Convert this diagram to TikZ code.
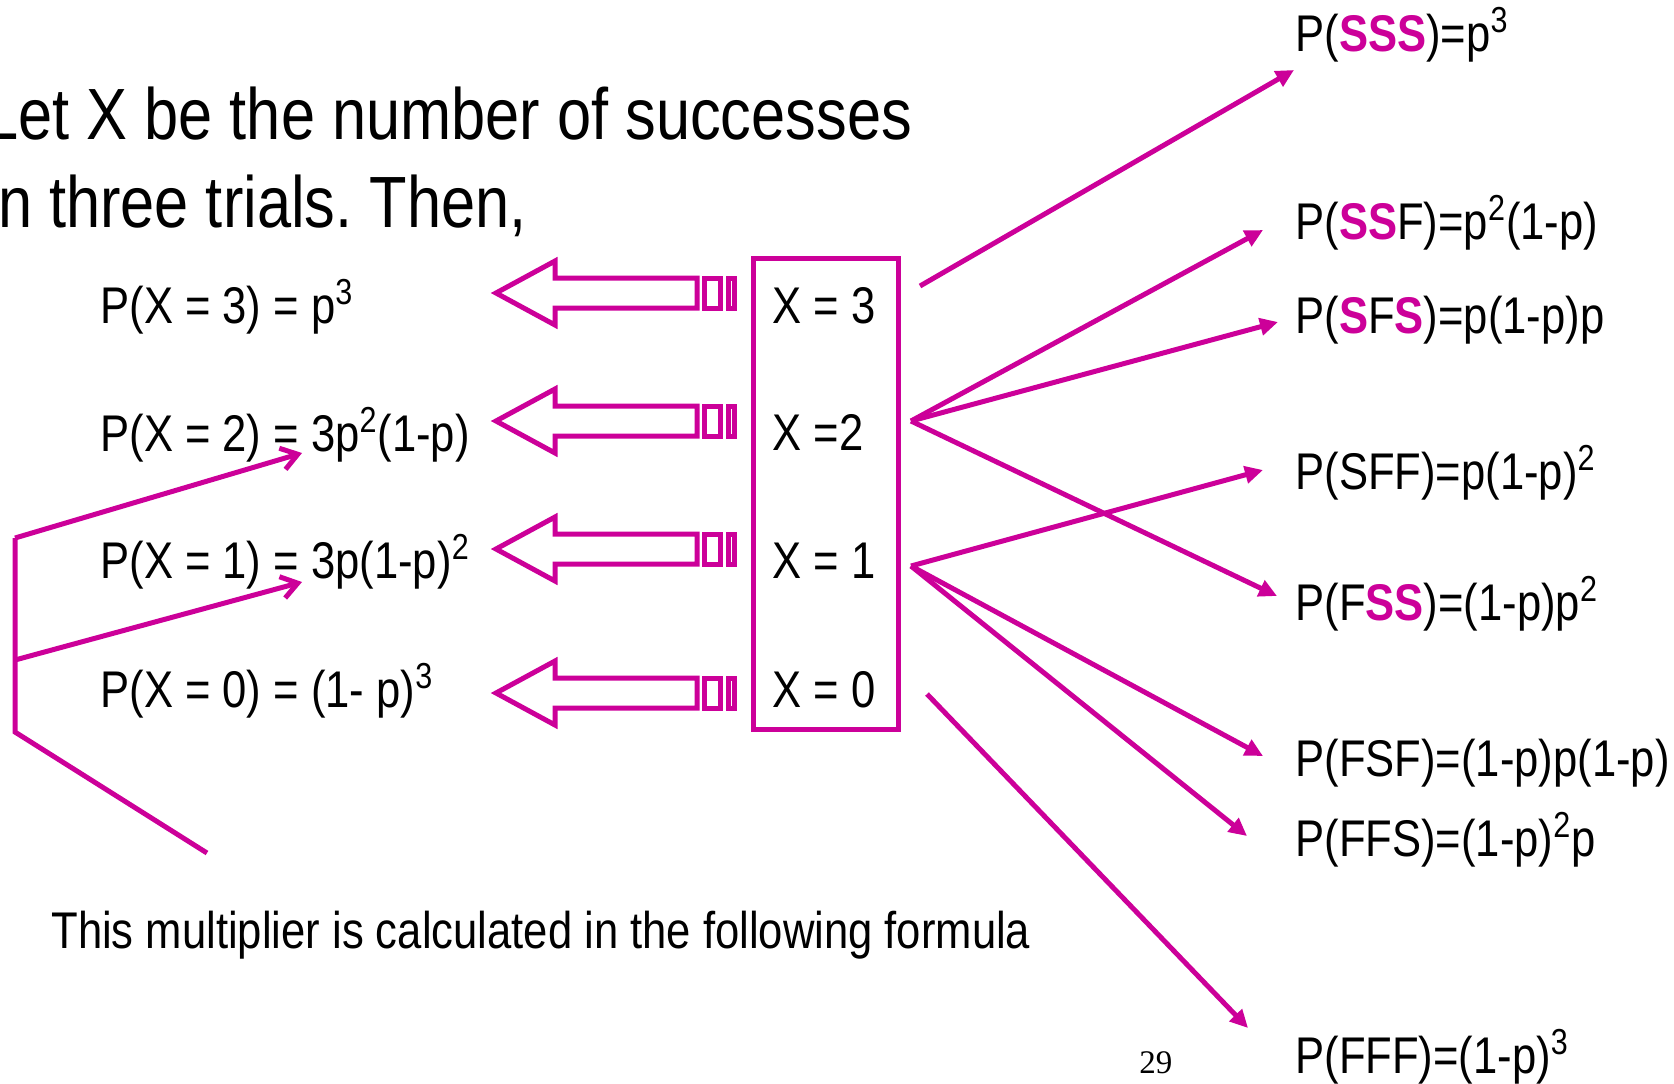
\documentclass[tikz,border=0pt]{standalone}
\usepackage{fontspec}
\setmainfont{Liberation Sans}[FakeStretch=0.845]
\newfontfamily\pagefont{Liberation Serif}
\usetikzlibrary{arrows.meta}
\definecolor{mag}{RGB}{204,0,153}
\newcommand{\hl}[1]{\textcolor{mag}{\textbf{#1}}}
\frenchspacing

\begin{document}
\begin{tikzpicture}[x=0.5pt, y=-0.5pt,
  lbl/.style={anchor=base west, inner sep=0pt, font=\fontsize{25.8pt}{31pt}\selectfont},
  ttl/.style={anchor=base west, inner sep=0pt, font=\fontsize{36.3pt}{44pt}\selectfont},
  ln/.style={mag, line width=2.5pt},
  e/.style={ln, -{Triangle[length=9pt, width=8.5pt]}},
  b/.style={ln, -{Straight Barb[length=8pt, width=11pt]}}]
  \useasboundingbox (0,0) rectangle (1674,1083);

  % heading
  \node[ttl] (title1) at (-16,139) {Let X be the number of successes};
  \node[ttl] (title2) at (-16,227) {in three trials. Then,};

  % distribution of X
  \node[lbl] (px3) at (100,323) {P(X = 3) = p\textsuperscript{3}};
  \node[lbl] (px2) at (100,451) {P(X = 2) = 3p\textsuperscript{2}(1-p)};
  \node[lbl] (px1) at (100,578) {P(X = 1) = 3p(1-p)\textsuperscript{2}};
  \node[lbl] (px0) at (100,707) {P(X = 0) = (1- p)\textsuperscript{3}};

  % values of X
  \draw[ln] (753,258) rectangle (898,729);
  \node[lbl] (x3) at (772,323) {X = 3};
  \node[lbl] (x2) at (772,450) {X =2};
  \node[lbl] (x1) at (772,578) {X = 1};
  \node[lbl] (x0) at (772,707) {X = 0};

  % striped block arrows
  \foreach \y in {293,421,549,693} {
    \draw[ln, line join=miter] (496,\y) -- (555,\y-32) -- (555,\y-15) -- (697,\y-15)
      -- (697,\y+15) -- (555,\y+15) -- (555,\y+32) -- cycle;
    \draw[ln] (704,\y-15) rectangle (720,\y+15);
    \draw[ln] (728,\y-15) rectangle (734,\y+15);
  }

  % outcomes
  \node[lbl] (sss) at (1295,51)   {P(\hl{SSS})=p\textsuperscript{3}};
  \node[lbl] (ssf) at (1295,239)  {P(\hl{SS}F)=p\textsuperscript{2}(1-p)};
  \node[lbl] (sfs) at (1295,333)  {P(\hl{S}F\hl{S})=p(1-p)p};
  \node[lbl] (sff) at (1295,489)  {P(SFF)=p(1-p)\textsuperscript{2}};
  \node[lbl] (fss) at (1295,620)  {P(F\hl{SS})=(1-p)p\textsuperscript{2}};
  \node[lbl] (fsf) at (1295,776)  {P(FSF)=(1-p)p(1-p)};
  \node[lbl] (ffs) at (1295,856)  {P(FFS)=(1-p)\textsuperscript{2}p};
  \node[lbl] (fff) at (1295,1073) {P(FFF)=(1-p)\textsuperscript{3}};

  \coordinate (o3) at (920,286);
  \coordinate (o2) at (911,421);
  \coordinate (o1) at (911,566);
  \coordinate (o0) at (927,694);

  \draw[e] (o3) -- ([shift={(-1,19)}]sss.base west);
  \draw[e] (o2) -- ([shift={(-32,-9)}]ssf.base west);
  \draw[e] (o2) -- ([shift={(-17,-11)}]sfs.base west);
  \draw[e] (o2) -- ([shift={(-18,-24)}]fss.base west);
  \draw[e] (o1) -- ([shift={(-32,-19)}]sff.base west);
  \draw[e] (o1) -- ([shift={(-32,-20)}]fsf.base west);
  \draw[e] (o1) -- ([shift={(-48,-20)}]ffs.base west);
  \draw[e] (o0) -- ([shift={(-47,-45)}]fff.base west);

  % multiplier bracket
  \coordinate (bt) at (15,538);
  \coordinate (bm) at (15,660);
  \coordinate (bb) at (15,732);
  \coordinate (be) at (207,853);
  \draw[ln, line join=miter] (bt) -- (bb) -- (be);
  \draw[b] (bt) -- ([shift={(202,2)}]px2.base west);
  \draw[b] (bm) -- ([shift={(202,4)}]px1.base west);

  \node[lbl] (note) at (51,948) {This multiplier is calculated in the following formula};
  \node[anchor=base west, inner sep=0pt, font=\pagefont\fontsize{16.5pt}{19pt}\selectfont] (page) at (1139,1073) {29};
\end{tikzpicture}
\end{document}
